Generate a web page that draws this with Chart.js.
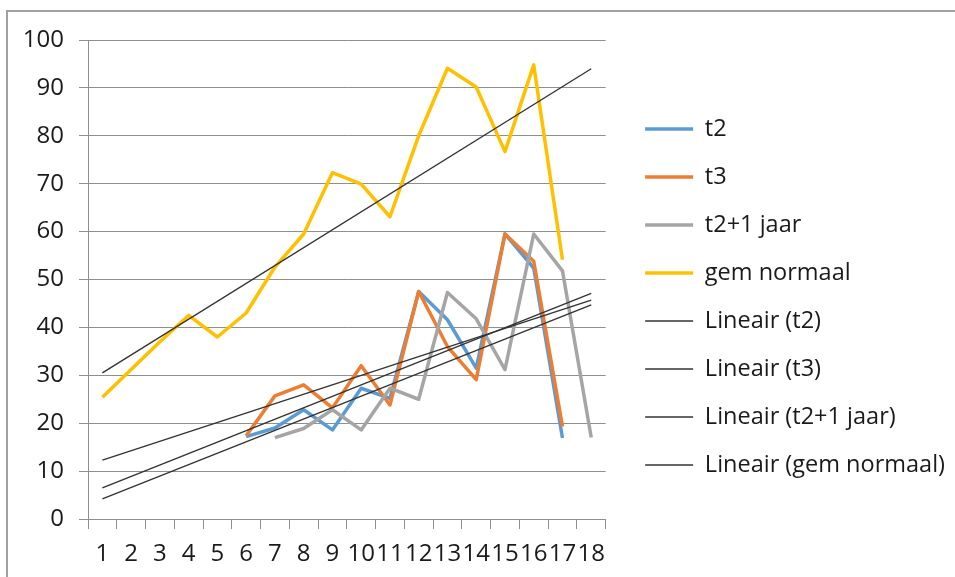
<!DOCTYPE html>
<html>
<head>
<meta charset="utf-8">
<title>t2 / t3 / gem normaal</title>
<script src="https://cdn.jsdelivr.net/npm/chart.js"></script>
<style>
  html, body { margin: 0; padding: 0; background: #fff; overflow: hidden; }
  .frame { position: absolute; left: 6px; top: 10px; width: 1000px; height: 1000px;
           border-top: 2px solid #a0a0a0; border-left: 2px solid #a0a0a0; }
  .wrap { position: absolute; left: 0; top: 0; width: 955px; height: 577px; }
</style>
</head>
<body>
<div class="frame"></div>
<div class="wrap"><canvas id="chart"></canvas></div>
<script>
// categories on the x axis
const categories = ['1', '2', '3', '4', '5', '6', '7', '8', '9', '10', '11', '12', '13', '14', '15', '16', '17', '18'];

// series values (null = no value)
const t2 = [null, null, null, null, null, 17.2, 19.0, 22.8, 18.6, 27.3, 25.2, 47.5, 41.6, 31.5, 59.5, 52.4, 16.9, null];
const t3 = [null, null, null, null, null, 17.4, 25.7, 28.0, 23.2, 32.0, 23.8, 47.5, 36.0, 29.1, 59.5, 53.8, 19.3, null];
const t2PlusJaar = [null, null, null, null, null, null, 17.0, 18.9, 22.8, 18.6, 27.3, 25.0, 47.3, 41.8, 31.2, 59.5, 51.8, 17.0];
const gemNormaal = [25.4, 31.2, 37.0, 42.5, 38.0, 43.0, 52.6, 59.5, 72.3, 69.9, 63.1, 80.0, 94.1, 90.2, 76.7, 94.8, 54.1, null];

// linear trend lines: value at first and last category
const trendNames = ['Lineair (t2)', 'Lineair (t3)', 'Lineair (t2+1 jaar)', 'Lineair (gem normaal)'];
const trendStart = [6.5, 12.3, 4.2, 30.5];
const trendEnd = [47.1, 45.7, 44.7, 94.0];

// y axis ticks
const yMin = 0;
const yMax = 100;
const yStep = 10;

const fontFamily = '"Open Sans", "Liberation Sans", sans-serif';
const textColor = '#1a1a1a';
const gridColor = '#8f8f8f';
const trendColor = '#333333';

function trendData(i) {
  return categories.map((c, k) => k === 0 ? trendStart[i] : (k === categories.length - 1 ? trendEnd[i] : null));
}

const series = [
  { label: 't2', data: t2, borderColor: '#5B9BD5', order: 7 },
  { label: 't3', data: t3, borderColor: '#ED7D31', order: 6 },
  { label: 't2+1 jaar', data: t2PlusJaar, borderColor: '#A5A5A5', order: 5 },
  { label: 'gem normaal', data: gemNormaal, borderColor: '#FFC000', order: 4 }
].map(s => Object.assign(s, {
  backgroundColor: s.borderColor,
  borderWidth: 3.5,
  pointRadius: 0,
  tension: 0,
  borderJoinStyle: 'round',
  spanGaps: false,
  yAxisID: 'y'
}));

const trends = trendNames.map((name, i) => ({
  label: name,
  data: trendData(i),
  borderColor: trendColor,
  backgroundColor: trendColor,
  borderWidth: 1.4,
  pointRadius: 0,
  tension: 0,
  spanGaps: true,
  order: 3 - i,
  yAxisID: 'y'
}));

new Chart(document.getElementById('chart'), {
  type: 'line',
  data: {
    labels: categories,
    datasets: series.concat(trends)
  },
  options: {
    responsive: true,
    maintainAspectRatio: false,
    animation: false,
    devicePixelRatio: 1,
    layout: { padding: { top: 17, bottom: 0, left: 0, right: 0 } },
    plugins: {
      tooltip: { enabled: false },
      // empty title only used as spacer above the plot area
      title: { display: true, text: '', fullSize: false, padding: 0, font: { size: 23, lineHeight: 1 } },
      legend: {
        position: 'right',
        maxWidth: 336,
        labels: {
          font: { family: fontFamily, size: 23.5 },
          color: textColor,
          usePointStyle: true,
          pointStyle: 'line',
          pointStyleWidth: 48,
          padding: 24.5,
          sort: (a, b) => a.datasetIndex - b.datasetIndex
        }
      }
    },
    scales: {
      x: {
        offset: true,
        grid: { offset: true, drawOnChartArea: false, tickLength: 10, color: gridColor },
        border: { color: gridColor },
        ticks: { font: { family: fontFamily, size: 24 }, color: textColor, padding: 11, maxRotation: 0, autoSkip: false },
        afterFit: s => { s.height = 58; }
      },
      y: {
        min: yMin,
        max: yMax,
        grid: { color: gridColor, tickLength: 9 },
        border: { color: gridColor },
        ticks: { stepSize: yStep, font: { family: fontFamily, size: 24 }, color: textColor, padding: 15 },
        afterFit: s => { s.width = 88; }
      },
      yRight: {
        position: 'right',
        grid: { display: false },
        border: { display: false },
        ticks: { display: false },
        afterFit: s => { s.width = 15; }
      }
    }
  }
});
</script>
</body>
</html>
